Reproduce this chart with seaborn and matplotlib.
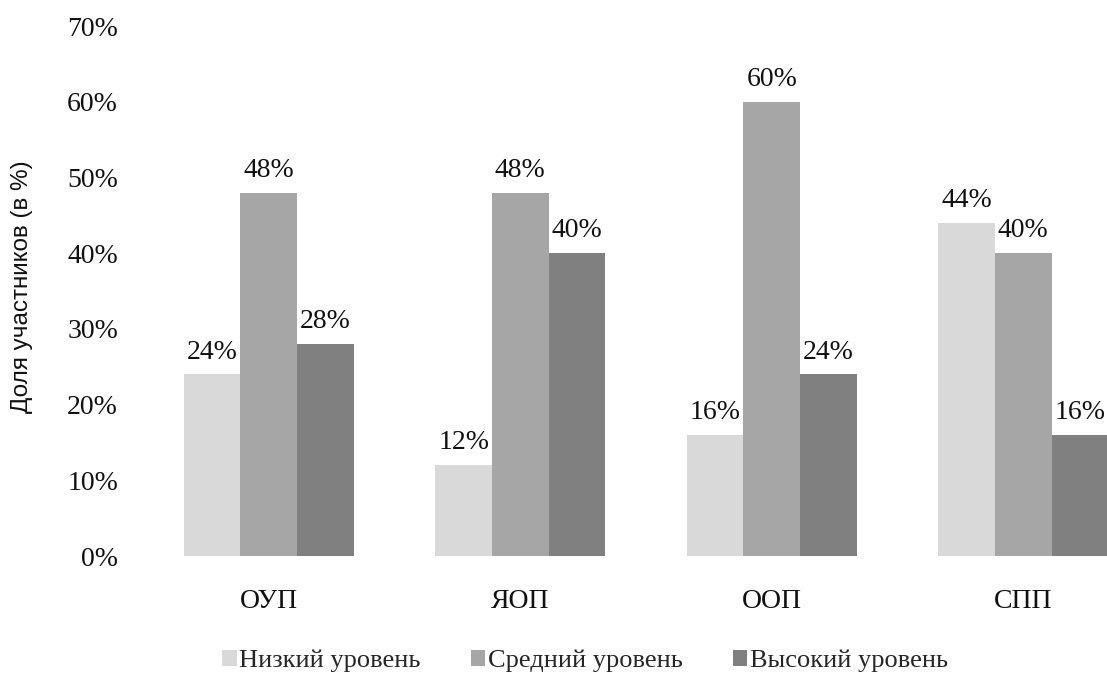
import matplotlib
matplotlib.use("Agg")
import matplotlib.pyplot as plt
import seaborn as sns
import pandas as pd
from matplotlib.patches import Patch

categories = ["ОУП", "ЯОП", "ООП", "СПП"]
series_names = ["Низкий уровень", "Средний уровень", "Высокий уровень"]
low = [24, 12, 16, 44]
mid = [48, 48, 60, 40]
high = [28, 40, 24, 16]
colors = ["#D9D9D9", "#A6A6A6", "#808080"]
yticks = [0, 10, 20, 30, 40, 50, 60, 70]

rows = []
for name, vals in zip(series_names, [low, mid, high]):
    for c, v in zip(categories, vals):
        rows.append({"cat": c, "series": name, "value": v})
df = pd.DataFrame(rows)

sns.set_theme(style="white")
serif = ["Liberation Serif", "DejaVu Serif"]
sans = ["Liberation Sans", "DejaVu Sans"]
FS = 20

W, H = 1107, 675
fig = plt.figure(figsize=(W / 100, H / 100), dpi=100)
ax = fig.add_axes([143 / W, (H - 556) / H, 1006 / W, 530 / H])

sns.barplot(data=df, x="cat", y="value", hue="series", order=categories,
            hue_order=series_names, palette=colors, width=0.675, gap=0,
            saturation=1, ax=ax, legend=False, edgecolor="none", linewidth=0)

for cont, vals in zip(ax.containers, [low, mid, high]):
    ax.bar_label(cont, labels=[f"{v}%" for v in vals], padding=7,
                 fontsize=FS, family=serif, color="#111111")

ax.set_ylim(0, 70)
ax.set_xlim(-0.5, 3.5)
ax.set_yticks(yticks)
ax.set_yticklabels([f"{t}%" for t in yticks], family=serif, fontsize=FS)
ax.set_xticks(range(len(categories)))
ax.set_xticklabels(categories, family=serif, fontsize=FS)
ax.tick_params(axis="y", length=0, pad=18, colors="#111111")
ax.tick_params(axis="x", length=0, pad=24, colors="#111111")
ax.set_xlabel("")
ax.set_ylabel("")
for s in ax.spines.values():
    s.set_visible(False)

fig.text(22 / W, (H - 287) / H, "Доля участников (в %)", rotation=90,
         ha="center", va="center", fontsize=17.5, family=sans, color="#111111")

handles = [Patch(facecolor=c, edgecolor="none") for c in colors]
fig.legend(handles, series_names, loc="center", bbox_to_anchor=(585 / W, (H - 661) / H),
           ncol=3, frameon=False, prop={"family": serif, "size": 19},
           handlelength=0.55, handleheight=0.55, handletextpad=0.1, columnspacing=1.9)

fig.savefig("out.png", dpi=100)
